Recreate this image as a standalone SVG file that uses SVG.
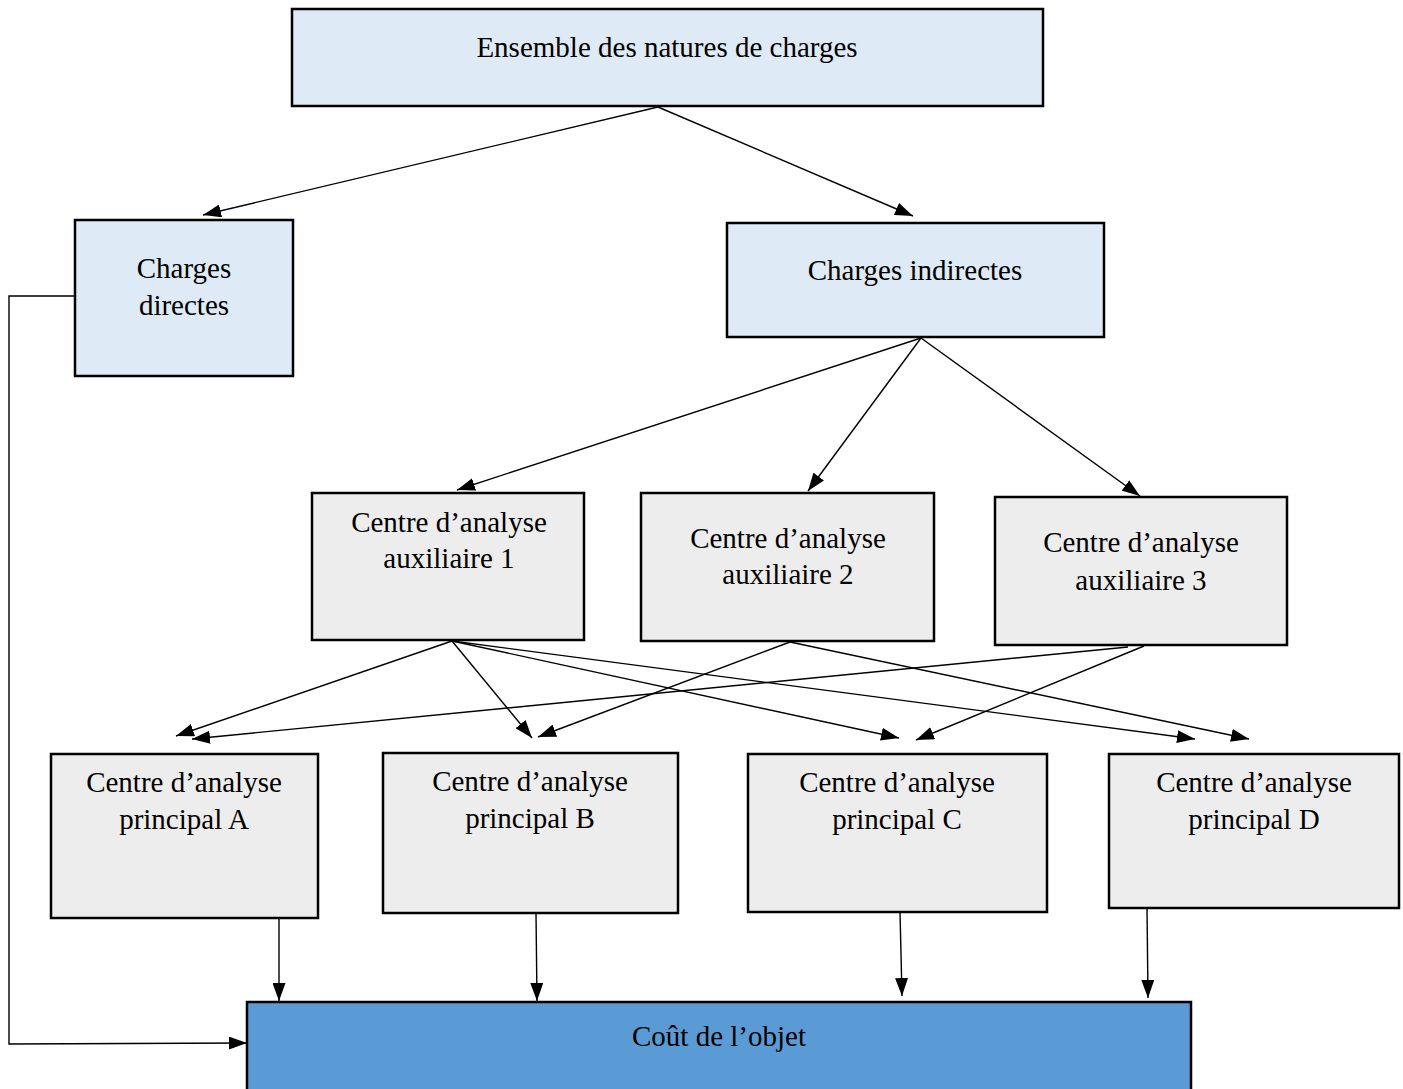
<svg xmlns="http://www.w3.org/2000/svg" width="1403" height="1089" viewBox="0 0 1403 1089">
<style>
.box{stroke:#000;stroke-width:2.5}
.lb{fill:#DEEAF6}
.gr{fill:#EDEDED}
.bl{fill:#5B9BD5}
text{font-family:"Liberation Serif","Times New Roman",serif;font-size:29px;fill:#000;text-anchor:middle}
.c{fill:none;stroke:#000;stroke-width:1.4}
</style>
<defs>
<marker id="ah" viewBox="0 0 18 13" refX="18" refY="6.5" markerWidth="18" markerHeight="13" markerUnits="userSpaceOnUse" orient="auto">
<path d="M0,0 L18,6.5 L0,13 Z" fill="#000"/>
</marker>
</defs>
<rect width="1403" height="1089" fill="#fff"/>
<g id="connectors">
<path class="c" d="M658,107 L203,215" marker-end="url(#ah)"/>
<path class="c" d="M658,107 L913,216" marker-end="url(#ah)"/>
<path class="c" d="M921,338 L457,490" marker-end="url(#ah)"/>
<path class="c" d="M921,338 L808,491" marker-end="url(#ah)"/>
<path class="c" d="M921,338 L1140,496" marker-end="url(#ah)"/>
<path class="c" d="M452,641 L176,736" marker-end="url(#ah)"/>
<path class="c" d="M452,641 L532,738" marker-end="url(#ah)"/>
<path class="c" d="M452,641 L899,738" marker-end="url(#ah)"/>
<path class="c" d="M452,641 L1195,739" marker-end="url(#ah)"/>
<path class="c" d="M790,642 L538,737" marker-end="url(#ah)"/>
<path class="c" d="M790,642 L1249,739" marker-end="url(#ah)"/>
<path class="c" d="M1144,646 L916,740" marker-end="url(#ah)"/>
<path class="c" d="M1128,647 L192,739" marker-end="url(#ah)"/>
<path class="c" d="M279,918 L279,1001" marker-end="url(#ah)"/>
<path class="c" d="M536,913 L537,1001" marker-end="url(#ah)"/>
<path class="c" d="M900,912 L902,996" marker-end="url(#ah)"/>
<path class="c" d="M1147,908 L1148,998" marker-end="url(#ah)"/>
<path class="c" d="M75,296 L9,296 L9,1044 L247,1043" marker-end="url(#ah)"/>
</g>
<g id="n-ensemble">
<rect class="box lb" x="292" y="9" width="751" height="97"/>
<text x="667" y="57">Ensemble des natures de charges</text>
</g>
<g id="n-directes">
<rect class="box lb" x="75" y="220" width="218" height="156"/>
<text x="184" y="278">Charges</text>
<text x="184" y="315">directes</text>
</g>
<g id="n-indirectes">
<rect class="box lb" x="727" y="223" width="377" height="114"/>
<text x="915" y="280">Charges indirectes</text>
</g>
<g id="n-aux1">
<rect class="box gr" x="312" y="493" width="272" height="147"/>
<text x="449" y="532">Centre d’analyse</text>
<text x="449" y="568">auxiliaire 1</text>
</g>
<g id="n-aux2">
<rect class="box gr" x="641" y="493" width="293" height="148"/>
<text x="788" y="548">Centre d’analyse</text>
<text x="788" y="584">auxiliaire 2</text>
</g>
<g id="n-aux3">
<rect class="box gr" x="995" y="497" width="292" height="148"/>
<text x="1141" y="552">Centre d’analyse</text>
<text x="1141" y="590">auxiliaire 3</text>
</g>
<g id="n-pa">
<rect class="box gr" x="51" y="754" width="267" height="164"/>
<text x="184" y="792">Centre d’analyse</text>
<text x="184" y="829">principal A</text>
</g>
<g id="n-pb">
<rect class="box gr" x="383" y="753" width="295" height="160"/>
<text x="530" y="791">Centre d’analyse</text>
<text x="530" y="828">principal B</text>
</g>
<g id="n-pc">
<rect class="box gr" x="748" y="754" width="299" height="158"/>
<text x="897" y="792">Centre d’analyse</text>
<text x="897" y="829">principal C</text>
</g>
<g id="n-pd">
<rect class="box gr" x="1109" y="754" width="290" height="154"/>
<text x="1254" y="792">Centre d’analyse</text>
<text x="1254" y="829">principal D</text>
</g>
<g id="n-cout">
<rect class="box bl" x="247" y="1002" width="944" height="100"/>
<text x="719" y="1046">Coût de l’objet</text>
</g>
</svg>
